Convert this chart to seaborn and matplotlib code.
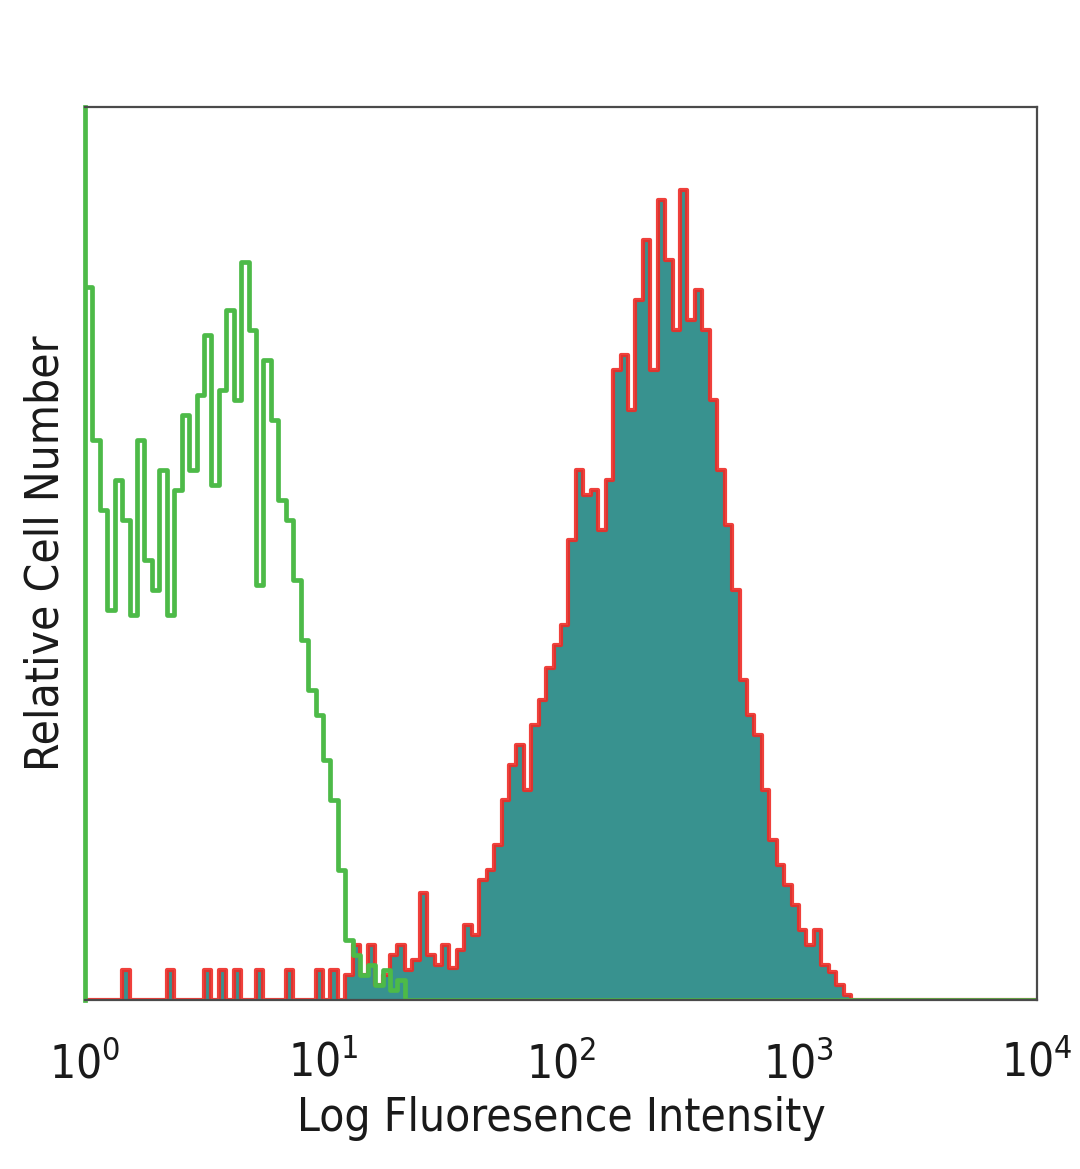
import matplotlib
matplotlib.use("Agg")
import matplotlib.pyplot as plt
import seaborn as sns
import numpy as np

# Flow cytometry histogram: 128 log channels spanning 10^0 .. 10^4
n_channels = 128
decades = (0, 4)

# isotype control (green outline), counts per channel
isotype_counts = [
    79.8, 62.7, 54.9, 43.7, 58.2, 53.8, 43.1, 62.7, 49.3, 45.9,
    59.4, 43.1, 57.1, 65.5, 59.4, 67.8, 74.5, 57.7, 68.3, 77.3,
    67.2, 82.6, 75.0, 46.5, 71.7, 64.9, 56.0, 53.8, 47.0, 40.3,
    34.7, 31.9, 26.9, 22.4, 14.6, 6.7, 5.0, 2.8, 3.9, 1.7,
    3.4, 1.1, 2.2,
]

# stained sample (teal fill, red outline), counts per channel
stained_counts = [
    0, 0, 0, 0, 0, 3.4, 0, 0, 0, 0,
    0, 3.4, 0, 0, 0, 0, 3.4, 0, 3.4, 0,
    3.4, 0, 0, 3.4, 0, 0, 0, 3.4, 0, 0,
    0, 3.4, 0, 3.4, 0, 2.8, 6.2, 2.8, 6.2, 1.7,
    2.8, 5.0, 6.2, 3.4, 4.5, 12.0, 5.0, 3.9, 6.2, 3.6,
    5.6, 8.4, 7.3, 13.4, 14.6, 17.4, 22.4, 26.3, 28.6, 23.5,
    30.8, 33.6, 37.2, 39.8, 42.0, 51.5, 59.4, 56.6, 57.1, 52.6,
    58.2, 70.5, 72.2, 66.1, 78.4, 85.1, 70.5, 89.6, 82.9, 75.0,
    90.7, 76.1, 79.5, 75.0, 67.2, 59.4, 53.2, 45.9, 35.8, 31.9,
    29.7, 23.5, 17.9, 15.1, 12.9, 10.6, 7.8, 6.2, 7.8, 3.9,
    3.1, 1.7, 0.6, 0,
]

tick_labels = [r"$\mathregular{10^{%d}}$" % k for k in range(5)]
x_title = "Log Fluoresence Intensity"
y_title = "Relative Cell Number"

green = "#4dba48"
red = "#ee2b26"
teal = "#38928f"


def pad(counts):
    return np.array(counts + [0] * (n_channels - len(counts)), dtype=float)


log_centers = np.linspace(decades[0], decades[1], n_channels + 1)
log_centers = (log_centers[:-1] + log_centers[1:]) / 2
channels = 10 ** log_centers

sns.set_style("white")
plt.rcParams["font.family"] = ["DejaVu Sans"]
plt.rcParams["font.stretch"] = "condensed"
plt.rcParams["mathtext.fontset"] = "custom"
plt.rcParams["mathtext.rm"] = "DejaVu Sans:stretch=condensed"

fig = plt.figure(figsize=(10.8, 11.69), dpi=100)
ax = fig.add_axes([0.0787, 0.1446, 0.8815, 0.7639])

hist_kws = dict(bins=n_channels, binrange=decades, log_scale=True,
                element="step", stat="count", ax=ax)

sns.histplot(x=channels, weights=pad(stained_counts), fill=True,
             color=teal, alpha=1, linewidth=0, **hist_kws)
sns.histplot(x=channels, weights=pad(stained_counts), fill=False,
             color=red, linewidth=3.0, alpha=0.9, **hist_kws)
sns.histplot(x=channels, weights=pad(isotype_counts), fill=False,
             color=green, linewidth=3.4, **hist_kws)

ax.set_xlim(1, 1e4)
ax.set_ylim(0, 100)
ax.set_xticks([1, 10, 100, 1000, 10000])
ax.set_xticklabels(tick_labels)
ax.minorticks_off()
ax.set_yticks([])
ax.tick_params(axis="x", length=0, pad=30, labelsize=33, colors="#1a1a1a")

ax.set_xlabel(x_title, fontsize=33, color="#1a1a1a", labelpad=6)
ax.set_ylabel(y_title, fontsize=33, color="#1a1a1a", labelpad=12)

for side in ["top", "right", "bottom"]:
    ax.spines[side].set_color("#4a4a4a")
    ax.spines[side].set_linewidth(1.6)
ax.spines["left"].set_color(green)
ax.spines["left"].set_linewidth(3.4)

fig.savefig("out.png", dpi=100)
